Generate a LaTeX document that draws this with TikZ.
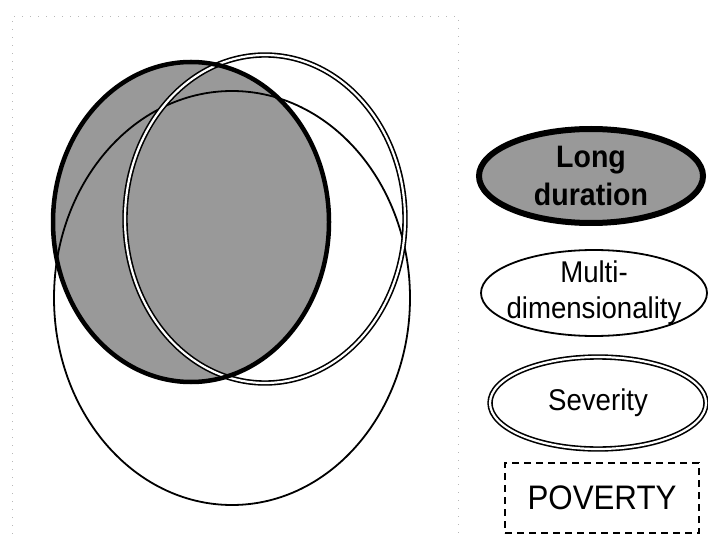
\documentclass[tikz,border=0pt]{standalone}
\usepackage{fontspec}
\setmainfont{Liberation Sans}
\newfontfamily\lblfont[FakeStretch=0.92]{Liberation Sans}
\usetikzlibrary{shapes.geometric}
\definecolor{SetGray}{gray}{0.6}
\definecolor{FrameGray}{gray}{0.72}

\begin{document}
\begin{tikzpicture}[
    x=1pt, y=-1pt,
    oval/.style={ellipse, inner sep=0pt},
    longset/.style={oval, draw=black, line width=4.5pt, fill=SetGray},
    multiset/.style={oval, draw=black, line width=1.8pt},
    sevset/.style={oval, draw=black, line width=1.6pt, double=white, double distance=2.2pt},
    povbox/.style={draw=black, dashed, line width=1.4pt, dash pattern=on 7pt off 5pt,
        minimum width=194pt, minimum height=70pt, inner sep=0pt},
    lbl/.style={align=center, font=\lblfont\fontsize{30}{36}\selectfont},
]
\useasboundingbox (0,0) rectangle (708,534);

% cadre pointille
\coordinate (fbl) at (12,534);
\coordinate (ftl) at (12,16);
\coordinate (ftr) at (458,16);
\coordinate (fbr) at (458,534);
\draw[FrameGray, line width=0.9pt, dash pattern=on 1pt off 7pt] (fbl) -- (ftl) -- (ftr) -- (fbr);

% ensembles
\node[longset, draw=none, minimum width=276pt, minimum height=320pt] (longfill) at (191,222) {};
\node[multiset, minimum width=356pt, minimum height=414pt] (multi) at (232,298) {};
\node[sevset, minimum width=280pt, minimum height=328pt] (sev) at (265,219) {};
\node[oval, draw=black, line width=4.5pt, minimum width=276pt, minimum height=320pt] (long) at (191,222) {};

% legende
\node[longset, line width=6pt, minimum width=224pt, minimum height=94pt,
      label={[lbl, font=\lblfont\fontsize{31}{38}\selectfont\bfseries]center:Long\\duration}]
      (leglong) at (591,176) {};
\node[multiset, minimum width=226pt, minimum height=86pt,
      label={[lbl]center:Multi-\\dimensionality}] (legmulti) at (594,293) {};
\node[sevset, minimum width=216pt, minimum height=92pt,
      label={[lbl]center:Severity}] (legsev) at (598,403) {};
\node[povbox, font=\lblfont\fontsize{34}{38}\selectfont] (legpov) at (602,498) {POVERTY};

\end{tikzpicture}
\end{document}
